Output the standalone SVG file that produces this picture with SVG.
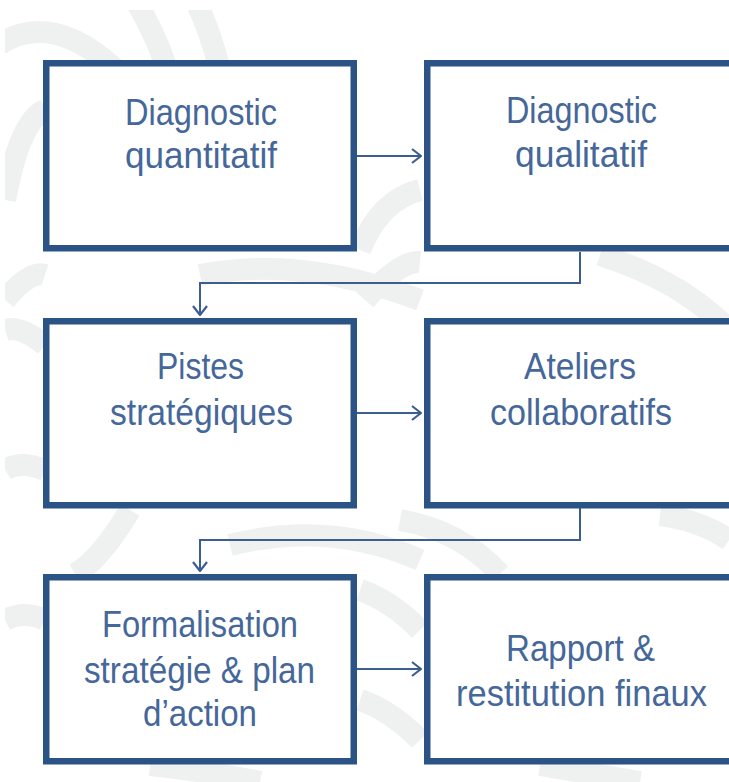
<svg xmlns="http://www.w3.org/2000/svg" width="729" height="782" viewBox="0 0 729 782">
<defs>
<style>
.box{fill:#ffffff;stroke:#2c5386;stroke-width:6.5}
.lbl{font-family:"Liberation Sans Narrow","Liberation Sans",sans-serif;font-size:36px;fill:#45679a;text-anchor:start}
.con{fill:none;stroke:#3c5e8e;stroke-width:2}
.bg{fill:none;stroke:#eff1f0;stroke-width:22}
</style>
<marker id="ah" viewBox="0 0 11 16" refX="10" refY="8" markerWidth="11" markerHeight="16" markerUnits="userSpaceOnUse" orient="auto">
<path d="M1,1 L10,8 L1,15" fill="none" stroke="#3c5e8e" stroke-width="2.2"/>
</marker>
<clipPath id="bgclip"><rect x="5" y="10" width="724" height="772"/></clipPath>
</defs>
<rect width="729" height="782" fill="#ffffff"/>
<g id="background" clip-path="url(#bgclip)">
<path class="bg" d="M-20,60 Q50,-10 140,95"/>
<path class="bg" d="M135,0 Q160,40 175,95"/>
<path class="bg" d="M195,0 Q215,40 225,95"/>
<path class="bg" d="M5,200 Q20,120 45,110"/>
<path class="bg" d="M5,300 Q30,270 45,275"/>
<path class="bg" d="M360,250 Q380,200 420,190"/>
<path class="bg" d="M365,300 Q400,260 420,262"/>
<path class="bg" d="M200,275 Q300,255 420,300"/>
<path class="bg" d="M600,255 Q680,280 729,330"/>
<path class="bg" d="M5,330 Q20,325 45,345"/>
<path class="bg" d="M5,470 Q20,460 45,470"/>
<path class="bg" d="M130,510 Q100,560 75,574"/>
<path class="bg" d="M230,545 Q330,520 420,560"/>
<path class="bg" d="M400,520 Q460,530 500,574"/>
<path class="bg" d="M660,515 Q700,520 729,540"/>
<path class="bg" d="M5,620 Q25,610 45,620"/>
<path class="bg" d="M360,590 Q390,600 420,630"/>
<path class="bg" d="M360,700 Q390,710 420,740"/>
<path class="bg" d="M150,765 Q200,770 260,782"/>
<path class="bg" d="M540,765 Q600,775 640,782"/>
</g>
<g id="connectors">
<path class="con" d="M357,156 L421,156" marker-end="url(#ah)"/>
<path class="con" d="M580,252 L580,283 L200,283 L200,315" marker-end="url(#ah)"/>
<path class="con" d="M357,413 L421,413" marker-end="url(#ah)"/>
<path class="con" d="M580,508 L580,540 L200,540 L200,571" marker-end="url(#ah)"/>
<path class="con" d="M357,669 L421,669" marker-end="url(#ah)"/>
</g>
<g id="n1">
<rect class="box" x="46.25" y="63.25" width="307.5" height="185"/>
<text class="lbl" x="125" y="125" textLength="152" lengthAdjust="spacingAndGlyphs">Diagnostic</text>
<text class="lbl" x="125" y="168" textLength="152" lengthAdjust="spacingAndGlyphs">quantitatif</text>
</g>
<g id="n2">
<rect class="box" x="427.25" y="63.25" width="320" height="185"/>
<text class="lbl" x="506" y="123" textLength="151" lengthAdjust="spacingAndGlyphs">Diagnostic</text>
<text class="lbl" x="515" y="167" textLength="132" lengthAdjust="spacingAndGlyphs">qualitatif</text>
</g>
<g id="n3">
<rect class="box" x="46.25" y="321.25" width="307.5" height="184"/>
<text class="lbl" x="157" y="379" textLength="87" lengthAdjust="spacingAndGlyphs">Pistes</text>
<text class="lbl" x="110" y="425" textLength="183" lengthAdjust="spacingAndGlyphs">stratégiques</text>
</g>
<g id="n4">
<rect class="box" x="427.25" y="321.25" width="320" height="184"/>
<text class="lbl" x="524" y="379" textLength="112" lengthAdjust="spacingAndGlyphs">Ateliers</text>
<text class="lbl" x="490" y="425" textLength="182" lengthAdjust="spacingAndGlyphs">collaboratifs</text>
</g>
<g id="n5">
<rect class="box" x="46.25" y="577.25" width="307.5" height="184"/>
<text class="lbl" x="102" y="637" textLength="196" lengthAdjust="spacingAndGlyphs">Formalisation</text>
<text class="lbl" x="84" y="683" textLength="231" lengthAdjust="spacingAndGlyphs">stratégie &amp; plan</text>
<text class="lbl" x="143" y="726" textLength="114" lengthAdjust="spacingAndGlyphs">d’action</text>
</g>
<g id="n6">
<rect class="box" x="427.25" y="577.25" width="320" height="184"/>
<text class="lbl" x="506" y="661" textLength="149" lengthAdjust="spacingAndGlyphs">Rapport &amp;</text>
<text class="lbl" x="456" y="706" textLength="251" lengthAdjust="spacingAndGlyphs">restitution finaux</text>
</g>
</svg>
